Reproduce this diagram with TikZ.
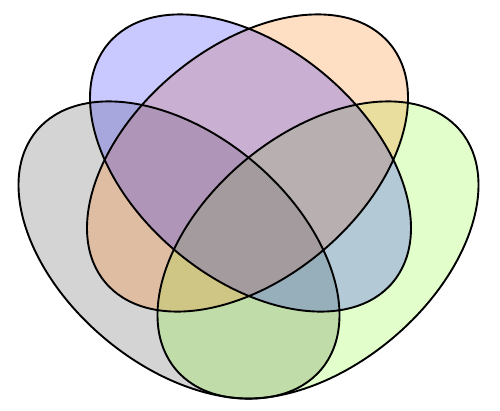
\documentclass[tikz,border=0pt]{standalone}
\definecolor{setblue}{RGB}{0,0,255}
\definecolor{setorange}{RGB}{255,120,10}
\definecolor{setgray}{RGB}{0,0,0}
\definecolor{setgreen}{RGB}{125,255,20}
\begin{document}
\begin{tikzpicture}[x=1pt,y=-1pt,
  vline/.style={draw=black, line width=1.9pt},
  grayfill/.style={fill=setgray, fill opacity=0.17},
  greenfill/.style={fill=setgreen, fill opacity=0.22},
  orangefill/.style={fill=setorange, fill opacity=0.24},
  bluefill/.style={fill=setblue, fill opacity=0.21}]
\useasboundingbox (0,0) rectangle (500,410);
% fills
\path[grayfill, rotate around={-40:(179,250)}] (179,250) ellipse [x radius=185.7pt, y radius=115.5pt];
\path[greenfill, rotate around={40:(318,250)}] (318,250) ellipse [x radius=185.7pt, y radius=115.5pt];
\path[orangefill, rotate around={40:(247.5,163)}] (247.5,163) ellipse [x radius=185.7pt, y radius=115.5pt];
\path[bluefill, rotate around={-40:(250.5,163)}] (250.5,163) ellipse [x radius=185.7pt, y radius=115.5pt];
% outlines
\path[vline, rotate around={-40:(179,250)}] (179,250) ellipse [x radius=185.7pt, y radius=115.5pt];
\path[vline, rotate around={40:(318,250)}] (318,250) ellipse [x radius=185.7pt, y radius=115.5pt];
\path[vline, rotate around={40:(247.5,163)}] (247.5,163) ellipse [x radius=185.7pt, y radius=115.5pt];
\path[vline, rotate around={-40:(250.5,163)}] (250.5,163) ellipse [x radius=185.7pt, y radius=115.5pt];
\end{tikzpicture}
\end{document}
